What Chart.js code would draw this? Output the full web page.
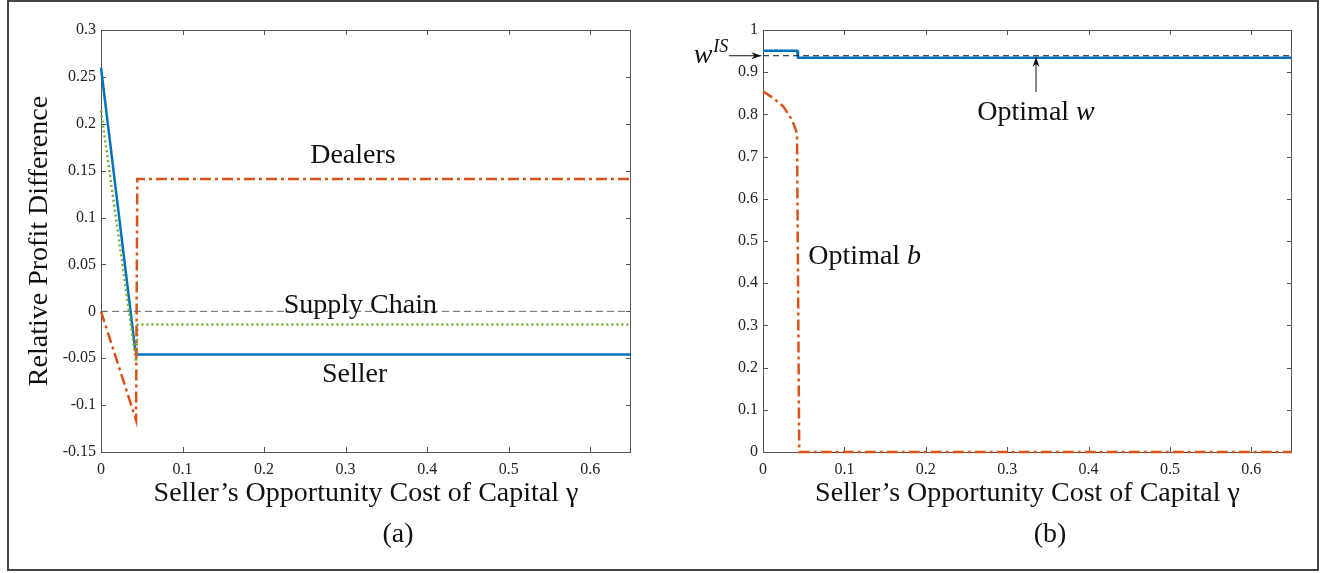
<!DOCTYPE html>
<html>
<head>
<meta charset="utf-8">
<script src="https://cdn.jsdelivr.net/npm/chart.js@4.4.1/dist/chart.umd.min.js"></script>
<style>
  body { margin: 0; background: #fff; }
  #frame { position: absolute; left: 7px; top: 0; width: 1308px; height: 567px; border: 2px solid #444; }
  .box { position: absolute; top: 0; }
</style>
</head>
<body>
<div id="frame"></div>
<div class="box" style="left:0"><canvas id="left" width="700" height="573"></canvas></div>
<div class="box" style="left:680px"><canvas id="right" width="653" height="573"></canvas></div>
<script>
// (a) relative profit difference vs gamma
var sellerX = [0, 0.042, 0.044, 0.65];
var sellerY = [0.26, -0.041, -0.046, -0.046];
var chainX = [0, 0.043, 0.045, 0.65];
var chainY = [0.214, -0.054, -0.014, -0.014];
var dealerX = [0, 0.043, 0.0445, 0.65];
var dealerY = [0, -0.116, 0.141, 0.141];
var zeroX = [0, 0.65];
var zeroY = [0, 0];

// (b) optimal w and b vs gamma
var wX = [0, 0.042, 0.043, 0.65];
var wY = [0.951, 0.951, 0.934, 0.934];
var wisX = [0, 0.65];
var wisY = [0.939, 0.939];
var bX = [0, 0.013, 0.0253, 0.0356, 0.0397, 0.0418, 0.0445, 0.65];
var bY = [0.855, 0.838, 0.818, 0.787, 0.767, 0.755, 0, 0];

// ticks
var xTicks = [0, 0.1, 0.2, 0.3, 0.4, 0.5, 0.6];
var yTicksA = [-0.15, -0.1, -0.05, 0, 0.05, 0.1, 0.15, 0.2, 0.25, 0.3];
var yTicksB = [0, 0.1, 0.2, 0.3, 0.4, 0.5, 0.6, 0.7, 0.8, 0.9, 1];

var BLUE = "#0072BD", RED = "#D95319", GREEN = "#77AC30";
var SERIF = "'Liberation Serif', 'DejaVu Serif', serif";
var BIG = 28;

function pts(xs, ys) {
    return xs.map(function (x, i) { return { x: x, y: ys[i] }; });
}

function fmt(v) { return String(+v.toFixed(2)); }

// matlab style box with inward ticks
var boxTicks = {
    id: "boxTicks",
    beforeDatasetsDraw: function (chart) {
        var ctx = chart.ctx, a = chart.chartArea, x = chart.scales.x, y = chart.scales.y;
        ctx.save();
        ctx.strokeStyle = "#555";
        ctx.lineWidth = 1;
        ctx.beginPath();
        x.ticks.forEach(function (t) {
            var px = Math.round(x.getPixelForValue(t.value)) + 0.5;
            ctx.moveTo(px, a.bottom); ctx.lineTo(px, a.bottom - 5);
            ctx.moveTo(px, a.top); ctx.lineTo(px, a.top + 5);
        });
        y.ticks.forEach(function (t) {
            var py = Math.round(y.getPixelForValue(t.value)) + 0.5;
            ctx.moveTo(a.left, py); ctx.lineTo(a.left + 5, py);
            ctx.moveTo(a.right, py); ctx.lineTo(a.right - 5, py);
        });
        ctx.stroke();
        ctx.strokeRect(a.left + 0.5, a.top + 0.5, a.right - a.left - 1, a.bottom - a.top);
        ctx.restore();
    }
};

// text pieces: [text, italic, size, dy]
function drawParts(ctx, parts, cx, cy) {
    var total = 0;
    parts.forEach(function (p) {
        ctx.font = (p[1] ? "italic " : "") + p[2] + "px " + SERIF;
        p.w = ctx.measureText(p[0]).width;
        total += p.w;
    });
    var xx = cx - total / 2;
    parts.forEach(function (p) {
        ctx.font = (p[1] ? "italic " : "") + p[2] + "px " + SERIF;
        ctx.fillText(p[0], xx, cy + (p[3] || 0));
        xx += p.w;
    });
}

function arrow(ctx, x1, y1, x2, y2) {
    var ang = Math.atan2(y2 - y1, x2 - x1);
    ctx.beginPath();
    ctx.moveTo(x1, y1); ctx.lineTo(x2, y2);
    ctx.stroke();
    ctx.beginPath();
    ctx.moveTo(x2, y2);
    ctx.lineTo(x2 - 10 * Math.cos(ang) + 3.5 * Math.sin(ang), y2 - 10 * Math.sin(ang) - 3.5 * Math.cos(ang));
    ctx.lineTo(x2 - 7 * Math.cos(ang), y2 - 7 * Math.sin(ang));
    ctx.lineTo(x2 - 10 * Math.cos(ang) - 3.5 * Math.sin(ang), y2 - 10 * Math.sin(ang) + 3.5 * Math.cos(ang));
    ctx.closePath();
    ctx.fill();
}

// annotations for each panel
var notesA = {
    id: "notesA",
    afterDraw: function (chart) {
        var ctx = chart.ctx, x = chart.scales.x, y = chart.scales.y;
        ctx.save();
        ctx.fillStyle = "#111";
        ctx.textBaseline = "middle";
        drawParts(ctx, [["Dealers", false, BIG]], x.getPixelForValue(0.309), y.getPixelForValue(0.166));
        drawParts(ctx, [["Supply Chain", false, BIG]], x.getPixelForValue(0.318), y.getPixelForValue(0.006));
        drawParts(ctx, [["Seller", false, BIG]], x.getPixelForValue(0.311), y.getPixelForValue(-0.068));
        drawParts(ctx, [["(a)", false, BIG]], 398, 535);
        ctx.restore();
    }
};

var notesB = {
    id: "notesB",
    afterDraw: function (chart) {
        var ctx = chart.ctx, x = chart.scales.x, y = chart.scales.y;
        ctx.save();
        ctx.fillStyle = "#111";
        ctx.strokeStyle = "#111";
        ctx.lineWidth = 1;
        ctx.textBaseline = "middle";
        drawParts(ctx, [["Optimal ", false, BIG], ["b", true, BIG]], x.getPixelForValue(0.125), y.getPixelForValue(0.464));
        drawParts(ctx, [["Optimal ", false, BIG], ["w", true, BIG]], x.getPixelForValue(0.3355), y.getPixelForValue(0.805));
        arrow(ctx, x.getPixelForValue(0.3355), y.getPixelForValue(0.853), x.getPixelForValue(0.3355), y.getPixelForValue(0.936));
        drawParts(ctx, [["w", true, BIG], [" ", false, 4], ["IS", true, 18, -9]], 711 - 680, 56);
        arrow(ctx, 729 - 680, y.getPixelForValue(0.939), x.getPixelForValue(-0.002), y.getPixelForValue(0.939));
        drawParts(ctx, [["(b)", false, BIG]], 1050 - 680, 535);
        ctx.restore();
    }
};

function lineSet(xs, ys, color, width, dash) {
    return {
        data: pts(xs, ys), showLine: true, borderColor: color, borderWidth: width,
        borderDash: dash, pointRadius: 0, fill: false, tension: 0, clip: 4
    };
}

function makeOptions(yMin, yMax, yTicks, yWidth, padRight, yTitle) {
    return {
        responsive: false,
        animation: false,
        layout: { padding: { left: 0, top: 30, right: padRight, bottom: 0 } },
        plugins: { legend: { display: false }, tooltip: { enabled: false } },
        scales: {
            x: {
                type: "linear", min: 0, max: 0.65,
                grid: { display: false, drawTicks: false },
                border: { display: false },
                afterBuildTicks: function (s) { s.ticks = xTicks.map(function (v) { return { value: v }; }); },
                afterFit: function (s) { s.height = 121; },
                ticks: { padding: 8, color: "#222", font: { family: SERIF, size: 16 }, callback: fmt, maxRotation: 0 },
                title: {
                    display: true, text: "Seller\u2019s Opportunity Cost of Capital \u03b3", color: "#111",
                    font: { family: SERIF, size: BIG }, padding: { top: 0, bottom: 63 }
                }
            },
            y: {
                type: "linear", min: yMin, max: yMax,
                grid: { display: false, drawTicks: false },
                border: { display: false },
                afterBuildTicks: function (s) { s.ticks = yTicks.map(function (v) { return { value: v }; }); },
                afterFit: function (s) { s.width = yWidth; },
                ticks: { padding: 5, color: "#222", font: { family: SERIF, size: 16 }, callback: fmt },
                title: {
                    display: !!yTitle, text: yTitle || "", color: "#111",
                    font: { family: SERIF, size: BIG }, padding: { top: 23, bottom: 0 }
                }
            }
        }
    };
}

new Chart(document.getElementById("left"), {
    type: "scatter",
    data: {
        datasets: [
            lineSet(zeroX, zeroY, "#666", 1, [7, 4]),
            lineSet(dealerX, dealerY, RED, 2.5, [11, 4, 3, 4]),
            lineSet(chainX, chainY, GREEN, 2.5, [2, 3]),
            lineSet(sellerX, sellerY, BLUE, 2.5, [])
        ]
    },
    options: makeOptions(-0.15, 0.3, yTicksA, 101, 69, "Relative Profit Difference"),
    plugins: [boxTicks, notesA]
});

new Chart(document.getElementById("right"), {
    type: "scatter",
    data: {
        datasets: [
            lineSet(wisX, wisY, "#111", 1, [6, 4]),
            lineSet(bX, bY, RED, 2.5, [11, 4, 3, 4]),
            lineSet(wX, wY, BLUE, 2.5, [])
        ]
    },
    options: makeOptions(0, 1, yTicksB, 83, 41, null),
    plugins: [boxTicks, notesB]
});
</script>
</body>
</html>
